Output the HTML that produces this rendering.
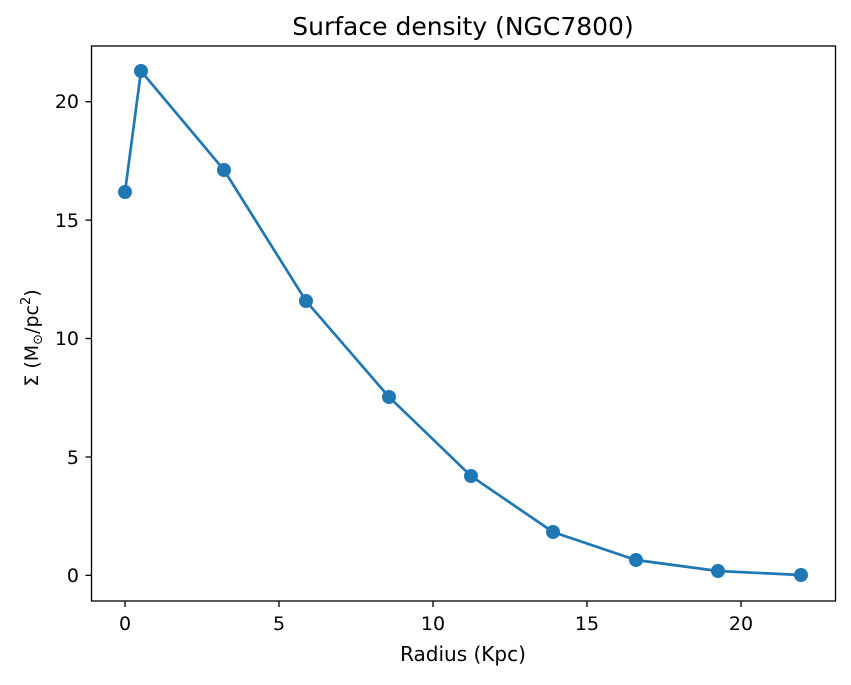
<!DOCTYPE html>
<html><head><style>body{margin:0;background:#fff}svg text{font-family:"DejaVu Sans","Liberation Sans",sans-serif;fill:#000}</style></head><body>
<svg width="851" height="680" xmlns="http://www.w3.org/2000/svg">
<rect x="91.5" y="46" width="744" height="555" fill="none" stroke="#000" stroke-width="1.3"/>
<g stroke="#000" stroke-width="1.3">
<line x1="125" y1="601" x2="125" y2="607"/><line x1="279" y1="601" x2="279" y2="607"/><line x1="433" y1="601" x2="433" y2="607"/><line x1="587" y1="601" x2="587" y2="607"/><line x1="741" y1="601" x2="741" y2="607"/>
<line x1="85.5" y1="575.3" x2="91.5" y2="575.3"/><line x1="85.5" y1="457" x2="91.5" y2="457"/><line x1="85.5" y1="338.5" x2="91.5" y2="338.5"/><line x1="85.5" y1="220.1" x2="91.5" y2="220.1"/><line x1="85.5" y1="101.7" x2="91.5" y2="101.7"/>
</g>
<g font-size="19" text-anchor="middle">
<text x="125" y="630">0</text><text x="279" y="630">5</text><text x="433" y="630">10</text><text x="587" y="630">15</text><text x="741" y="630">20</text>
</g>
<g font-size="19" text-anchor="end">
<text x="79" y="582">0</text><text x="79" y="464">5</text><text x="79" y="345">10</text><text x="79" y="227">15</text><text x="79" y="108">20</text>
</g>
<text x="463" y="661" font-size="20" text-anchor="middle">Radius (Kpc)</text>
<text x="463" y="35" font-size="25" text-anchor="middle">Surface density (NGC7800)</text>
<text transform="translate(38,338) rotate(-90)" font-size="19" text-anchor="middle">Σ (M<tspan font-size="13" dy="4">⊙</tspan><tspan dy="-4">/pc</tspan><tspan font-size="13" dy="-8">2</tspan><tspan dy="8">)</tspan></text>
<polyline fill="none" stroke="#1f77b4" stroke-width="2.7" points="125,192 141,71 224,170 306,301 389,397 471,476 553,532 636,560 718,571 801,575"/>
<g fill="#1f77b4">
<circle cx="125" cy="192" r="7"/><circle cx="141" cy="71" r="7"/><circle cx="224" cy="170" r="7"/><circle cx="306" cy="301" r="7"/><circle cx="389" cy="397" r="7"/><circle cx="471" cy="476" r="7"/><circle cx="553" cy="532" r="7"/><circle cx="636" cy="560" r="7"/><circle cx="718" cy="571" r="7"/><circle cx="801" cy="575" r="7"/>
</g>
</svg>
</body></html>
